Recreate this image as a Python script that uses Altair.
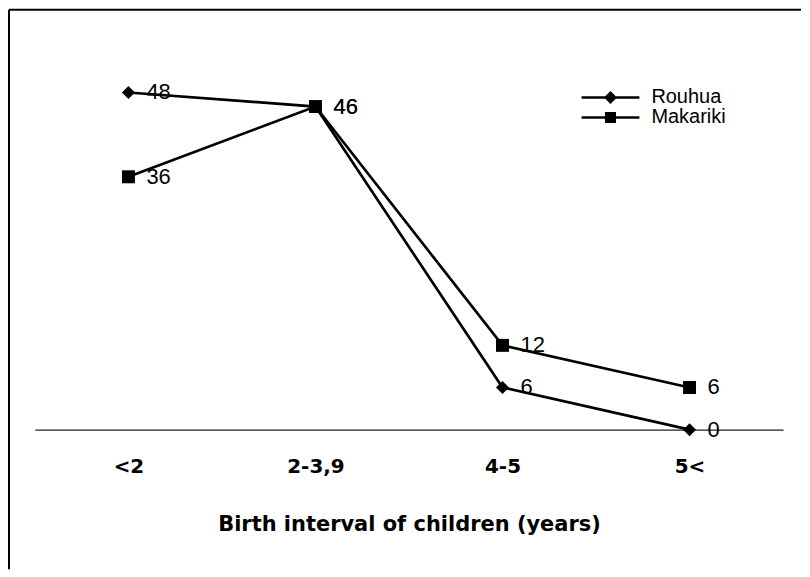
import altair as alt
import pandas as pd

categories = ["<2", "2-3,9", "4-5", "5<"]
series_names = ["Rouhua", "Makariki"]
rouhua = [48, 46, 6, 0]
makariki = [36, 46, 12, 6]

rows = []
for name, vals in zip(series_names, [rouhua, makariki]):
    for c, v in zip(categories, vals):
        rows.append({"cat": c, "value": v, "series": name})
df = pd.DataFrame(rows)

W, H = 794, 421
FONT = "Liberation Sans"
BOLD_FONT = "DejaVu Sans"

x_enc = alt.X(
    "cat:N",
    sort=categories,
    scale=alt.Scale(type="point", range=[26, 776], padding=0.5),
    axis=alt.Axis(
        title="Birth interval of children (years)",
        domainColor="#222",
        domainWidth=1.3,
        ticks=False,
        tickSize=0,
        grid=False,
        labelAngle=0,
        labelFont=BOLD_FONT,
        labelFontSize=20,
        labelFontWeight="bold",
        labelColor="black",
        labelPadding=27,
        titleFont=BOLD_FONT,
        titleFontSize=21,
        titleFontWeight="bold",
        titleColor="black",
        titlePadding=37,
    ),
)
y_enc = alt.Y("value:Q", scale=alt.Scale(domain=[0, 48], range=[421, 83]), axis=None)

base = alt.Chart(df)

lines = base.mark_line(color="black", strokeWidth=2.7).encode(
    x=x_enc, y=y_enc, detail="series:N"
)

points = base.mark_point(filled=True, color="black", size=169, opacity=1).encode(
    x=x_enc,
    y=y_enc,
    shape=alt.Shape(
        "series:N",
        scale=alt.Scale(domain=series_names, range=["diamond", "square"]),
        legend=None,
    ),
)

labels = base.mark_text(
    align="left", baseline="middle", dx=18, font=FONT, fontSize=22, color="black"
).encode(x=x_enc, y=y_enc, text="value:Q")

path_d = "M-4.46,-0.19H4.46V0.19H-4.46Z M0,-1L1,0L0,1L-1,0Z"
path_s = "M-4.46,-0.19H4.46V0.19H-4.46Z M-0.85,-0.85H0.85V0.85H-0.85Z"

legend_layer = base.mark_point(filled=True, color="black", opacity=0, size=169, strokeWidth=0).encode(
    x=x_enc,
    y=y_enc,
    shape=alt.Shape(
        "series:N",
        scale=alt.Scale(domain=series_names, range=[path_d, path_s]),
        legend=alt.Legend(
            title=None,
            orient="none",
            legendX=593,
            legendY=78,
            padding=0,
            symbolSize=169,
            symbolFillColor="black",
            symbolStrokeWidth=0,
            symbolOpacity=1,
            labelFont=FONT,
            labelFontSize=20,
            labelColor="black",
            labelOffset=31,
            rowPadding=-4,
        ),
    ),
)

frame_data = alt.Data(values=[{}])
frame_top = alt.Chart(frame_data).mark_rule(color="black", strokeWidth=2).encode(
    x=alt.value(0), x2=alt.value(W), y=alt.value(0)
)
frame_left = alt.Chart(frame_data).mark_rule(color="black", strokeWidth=2).encode(
    x=alt.value(0), y=alt.value(0), y2=alt.value(561)
)

chart = (
    alt.layer(frame_top, frame_left, lines, points, labels, legend_layer)
    .resolve_scale(shape="independent")
    .resolve_legend(shape="independent")
    .properties(width=W, height=H, padding=0, background="white")
    .configure_view(strokeWidth=0)
)

chart.save("out.html", embed_options={"renderer": "svg", "actions": False})
